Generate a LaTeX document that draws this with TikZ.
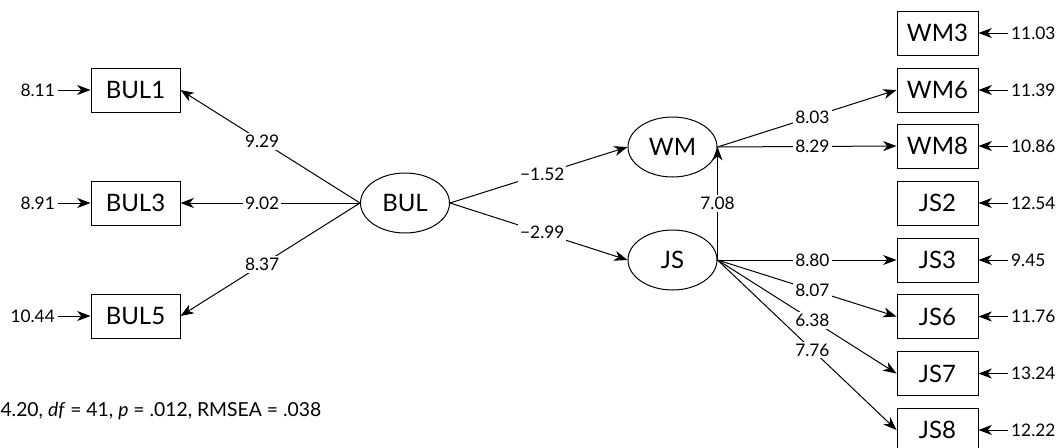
\documentclass[tikz,border=0pt]{standalone}
\usepackage{fontspec}
\setmainfont{Lato}
\usetikzlibrary{shapes,arrows.meta}

\begin{document}
\begin{tikzpicture}[x=0.75pt,y=-0.75pt,line width=0.75pt,
  >={Stealth[length=10pt,width=7.5pt,inset=3pt]},
  item/.style={draw,rectangle,minimum height=33pt,inner sep=0pt,font=\fontsize{18}{20}\selectfont},
  latent/.style={draw,ellipse,inner sep=0pt,minimum width=66.75pt,minimum height=45pt,font=\fontsize{18}{20}\selectfont},
  err/.style={font=\fontsize{13}{15}\selectfont,inner sep=2pt},
  coef/.style={fill=white,font=\fontsize{13}{15}\selectfont,inner sep=1.5pt}]

\useasboundingbox (0,0) rectangle (1061,447);

\node[latent] (BUL) at (405,203) {BUL};
\node[latent] (WM) at (672.5,147) {WM};
\node[latent] (JS) at (672.5,260) {JS};

\node[item,minimum width=66.75pt] (BUL1) at (135.5,90) {BUL1};
\node[item,minimum width=66.75pt] (BUL3) at (135.5,203) {BUL3};
\node[item,minimum width=66.75pt] (BUL5) at (135.5,316) {BUL5};

\node[item,minimum width=60.75pt] (WM3) at (937.5,33) {WM3};
\node[item,minimum width=60.75pt] (WM6) at (937.5,90) {WM6};
\node[item,minimum width=60.75pt] (WM8) at (937.5,146) {WM8};
\node[item,minimum width=60.75pt] (JS2) at (937.5,203) {JS2};
\node[item,minimum width=60.75pt] (JS3) at (937.5,260) {JS3};
\node[item,minimum width=60.75pt] (JS6) at (937.5,316.5) {JS6};
\node[item,minimum width=60.75pt] (JS7) at (937.5,373.5) {JS7};
\node[item,minimum width=60.75pt] (JS8) at (937.5,430) {JS8};

\node[err,anchor=east] (eBUL1) at (58,90) {8.11};
\node[err,anchor=east] (eBUL3) at (58,203) {8.91};
\node[err,anchor=east] (eBUL5) at (58,316) {10.44};

\node[err,anchor=west] (eWM3) at (1008,33) {11.03};
\node[err,anchor=west] (eWM6) at (1008,90) {11.39};
\node[err,anchor=west] (eWM8) at (1008,146) {10.86};
\node[err,anchor=west] (eJS2) at (1008,203) {12.54};
\node[err,anchor=west] (eJS3) at (1008,260) {9.45};
\node[err,anchor=west] (eJS6) at (1008,316.5) {11.76};
\node[err,anchor=west] (eJS7) at (1008,373.5) {13.24};
\node[err,anchor=west] (eJS8) at (1008,430) {12.22};

\foreach \v in {BUL1,BUL3,BUL5}
  \draw[->] (e\v) -- (\v);
\foreach \v in {WM3,WM6,WM8,JS2,JS3,JS6,JS7,JS8}
  \draw[->] (e\v) -- (\v);

\draw[->] (BUL.west) -- node[coef,pos=0.545] {9.29} (BUL1.east);
\draw[->] (BUL.west) -- node[coef,pos=0.545] {9.02} (BUL3.east);
\draw[->] (BUL.west) -- node[coef,pos=0.545] {8.37} (BUL5.east);

\draw[->] (BUL.east) -- node[coef,pos=0.52] {−1.52} (WM.west);
\draw[->] (BUL.east) -- node[coef,pos=0.52] {−2.99} (JS.west);
\draw[->] (JS.east) -- node[coef] {7.08} (WM.east);

\draw[->] (WM.east) -- node[coef,pos=0.53] {8.03} (WM6.west);
\draw[->] (WM.east) -- node[coef,pos=0.53] {8.29} (WM8.west);

\draw[->] (JS.east) -- node[coef,pos=0.53] {8.80} (JS3.west);
\draw[->] (JS.east) -- node[coef,pos=0.53] {8.07} (JS6.west);
\draw[->] (JS.east) -- node[coef,pos=0.53] {6.38} (JS7.west);
\draw[->] (JS.east) -- node[coef,pos=0.53] {7.76} (JS8.west);

\node[anchor=west,inner sep=0pt,font=\fontsize{14.5}{16}\selectfont] (fit) at (0,411)
  {4.20, \textit{df} = 41, \textit{p} = .012, RMSEA = .038};

\end{tikzpicture}
\end{document}
